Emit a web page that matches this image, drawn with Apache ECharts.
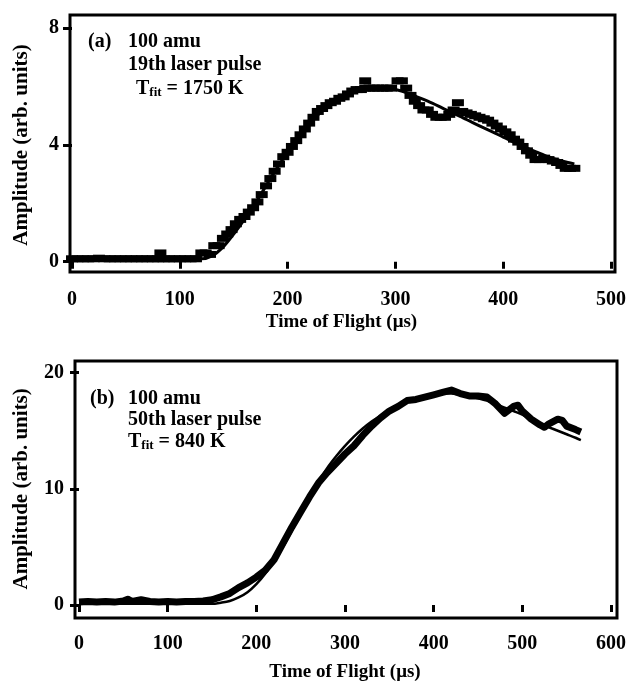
<!DOCTYPE html>
<html>
<head>
<meta charset="utf-8">
<script src="https://cdn.jsdelivr.net/npm/echarts@6/dist/echarts.min.js"></script>
<style>
html,body{margin:0;padding:0;background:#fff;}
#chart{width:629px;height:683px;}
</style>
</head>
<body>
<div id="chart"></div>
<script>
// panel (a): 19th laser pulse, time of flight (us) vs amplitude
var pulseA_data = [
  [0,0.1],[5,0.1],[10,0.1],[15,0.1],[20,0.1],[25,0.12],[30,0.1],[35,0.1],[40,0.1],[45,0.1],
  [50,0.1],[55,0.1],[60,0.1],[65,0.1],[70,0.1],[75,0.1],[80,0.1],[82,0.3],[85,0.1],[90,0.1],
  [95,0.1],[100,0.1],[105,0.1],[110,0.1],[115,0.1],[120,0.3],[124,0.3],[128,0.25],[132,0.55],[136,0.55],
  [140,0.8],[144,0.95],[148,1.1],[152,1.3],[156,1.45],[160,1.55],[164,1.7],[168,1.85],[172,2.05],[176,2.3],
  [180,2.6],[184,2.85],[188,3.1],[192,3.35],[196,3.6],[200,3.75],[204,3.95],[208,4.15],[212,4.35],[216,4.55],
  [220,4.75],[224,4.95],[228,5.15],[232,5.25],[236,5.35],[240,5.45],[244,5.5],[248,5.6],[252,5.65],[256,5.75],
  [260,5.85],[264,5.9],[268,5.9],[272,5.95],[272,6.2],[276,5.95],[280,5.95],[284,5.95],[288,5.95],[292,5.95],
  [296,5.95],[302,6.2],[306,6.2],[310,5.95],[314,5.7],[318,5.5],[322,5.35],[326,5.2],[330,5.2],[334,5.05],
  [338,4.95],[342,4.95],[346,4.95],[350,5.05],[354,5.2],[358,5.45],[362,5.15],[366,5.1],[370,5.05],[374,5.0],
  [378,4.95],[382,4.9],[386,4.85],[390,4.75],[394,4.65],[398,4.55],[402,4.45],[406,4.35],[410,4.2],[414,4.1],
  [418,3.95],[422,3.8],[426,3.65],[430,3.5],[434,3.5],[438,3.55],[442,3.5],[446,3.45],[450,3.4],[454,3.3],
  [458,3.2],[462,3.2],[466,3.2]
];
var pulseA_fit = [
  [0,0.1],[120,0.1],[130,0.2],[140,0.5],[150,0.95],[160,1.45],[170,2.0],[180,2.6],[190,3.2],[200,3.75],
  [210,4.25],[220,4.7],[230,5.1],[240,5.4],[250,5.65],[260,5.82],[270,5.93],[280,5.98],[290,5.97],[300,5.9],
  [310,5.8],[320,5.65],[330,5.5],[340,5.33],[350,5.15],[360,4.98],[370,4.8],[380,4.62],[390,4.45],[400,4.27],
  [410,4.1],[420,3.93],[430,3.77],[440,3.62],[450,3.5],[460,3.4],[466,3.35]
];

// panel (b): 50th laser pulse
var pulseB_data = [
  [0,0.25],[10,0.3],[20,0.25],[30,0.3],[40,0.25],[50,0.35],[55,0.5],[60,0.3],[70,0.45],[80,0.3],
  [90,0.25],[100,0.3],[110,0.25],[120,0.3],[130,0.3],[140,0.35],[150,0.45],[160,0.7],[170,1.0],[180,1.5],
  [190,1.9],[200,2.4],[210,3.0],[220,3.9],[230,5.3],[240,6.7],[250,8.0],[260,9.3],[270,10.5],[280,11.4],
  [290,12.2],[300,13.0],[310,13.7],[320,14.6],[330,15.4],[340,16.1],[350,16.7],[360,17.1],[370,17.6],[380,17.7],
  [390,17.9],[400,18.1],[410,18.3],[420,18.5],[430,18.2],[440,18.0],[450,18.0],[460,17.9],[470,17.3],[480,16.5],
  [490,17.1],[495,17.2],[500,16.7],[510,16.0],[520,15.5],[525,15.3],[530,15.6],[540,16.0],[545,15.9],[550,15.4],
  [560,15.1],[566,14.9]
];
var pulseB_fit = [
  [0,0.1],[100,0.1],[150,0.1],[160,0.2],[170,0.35],[180,0.65],[190,1.1],[200,1.8],[210,2.7],[220,3.8],
  [230,5.0],[240,6.4],[250,7.9],[260,9.3],[270,10.6],[280,11.8],[290,12.8],[300,13.7],[310,14.5],[320,15.2],
  [330,15.8],[340,16.3],[350,16.8],[360,17.2],[370,17.5],[380,17.8],[390,18.0],[400,18.1],[410,18.2],[420,18.2],
  [430,18.1],[440,18.0],[450,17.8],[460,17.6],[470,17.3],[480,17.0],[490,16.7],[500,16.4],[510,16.0],[520,15.6],
  [530,15.3],[540,15.0],[550,14.7],[560,14.4],[566,14.2]
];

// axis ranges / ticks
var xMaxA = 500, yMaxA = 8, yStepA = 4;
var xMaxB = 600, yMaxB = 20, yStepB = 10;
var xStep = 100;

var labelsA = ['(a)', '100 amu', '19th laser pulse', '1750 K'];
var labelsB = ['(b)', '100 amu', '50th laser pulse', '840 K'];

var FONT = '"Liberation Serif", "Times New Roman", serif';

function xAx(idx, max, offset, labelMargin, nameGap) {
  return {
    gridIndex: idx, type: 'value', min: 0, max: max, interval: xStep,
    offset: offset,
    splitLine: {show: false},
    axisLine: {show: false},
    axisTick: {show: true, length: 7, lineStyle: {color: '#000', width: 3}},
    axisLabel: {color: '#000', fontFamily: FONT, fontWeight: 'bold', fontSize: 20, margin: labelMargin},
    name: 'Time of Flight (\u03bcs)', nameLocation: 'middle', nameGap: nameGap,
    nameTextStyle: {color: '#000', fontFamily: FONT, fontWeight: 'bold', fontSize: 19}
  };
}
function yAx(idx, max, step, offset, nameGap) {
  return {
    gridIndex: idx, type: 'value', min: 0, max: max, interval: step,
    offset: offset,
    splitLine: {show: false},
    axisLine: {show: false},
    axisTick: {show: true, length: 9, lineStyle: {color: '#000', width: 3}},
    axisLabel: {color: '#000', fontFamily: FONT, fontWeight: 'bold', fontSize: 20, margin: 11},
    name: 'Amplitude (arb. units)', nameLocation: 'middle', nameGap: nameGap,
    nameTextStyle: {color: '#000', fontFamily: FONT, fontWeight: 'bold', fontSize: 21}
  };
}

function note(x, y, txt) {
  return {type: 'text', x: x, y: y, style: {
    text: txt, fill: '#000', font: 'bold 20px ' + FONT, verticalAlign: 'top'
  }};
}
function tfit(x, y, val) {
  return {type: 'text', x: x, y: y, style: {
    text: '{t|T}{s|fit}{t| = ' + val + '}', verticalAlign: 'top',
    rich: {
      t: {fill: '#000', fontFamily: FONT, fontWeight: 'bold', fontSize: 20, lineHeight: 20},
      s: {fill: '#000', fontFamily: FONT, fontWeight: 'bold', fontSize: 13, lineHeight: 8, verticalAlign: 'bottom'}
    }
  }};
}
function frame(x1, y1, x2, y2) {
  return {type: 'rect', shape: {x: x1, y: y1, width: x2 - x1, height: y2 - y1},
    style: {fill: 'none', stroke: '#000', lineWidth: 3}, z: 10};
}

var chart = echarts.init(document.getElementById('chart'));
var option = {
  backgroundColor: '#fff',
  animation: false,
  grid: [
    {left: 72, top: 28.3, width: 540, height: 233.4},
    {left: 79, top: 372.7, width: 535.3, height: 236.6}
  ],
  xAxis: [xAx(0, xMaxA, 10, 18, 41), xAx(1, xMaxB, 9, 20, 49)],
  yAxis: [yAx(0, yMaxA, yStepA, 2, 38), yAx(1, yMaxB, yStepB, 4, 43)],
  series: [
    {type: 'scatter', xAxisIndex: 0, yAxisIndex: 0, data: pulseA_data, clip: false,
     symbol: 'rect', symbolSize: [12, 7], itemStyle: {color: '#000', opacity: 1}},
    {type: 'line', xAxisIndex: 0, yAxisIndex: 0, data: pulseA_fit, showSymbol: false, smooth: 0.3,
     clip: false, lineStyle: {color: '#000', width: 3}},
    {type: 'line', xAxisIndex: 1, yAxisIndex: 1, data: pulseB_data, showSymbol: false,
     clip: false, lineStyle: {color: '#000', width: 7, join: 'round'}},
    {type: 'line', xAxisIndex: 1, yAxisIndex: 1, data: pulseB_fit, showSymbol: false, smooth: 0.3,
     clip: false, lineStyle: {color: '#000', width: 2.5}}
  ],
  graphic: [
    frame(70, 15, 615, 272),
    frame(75, 361, 617, 618),
    note(88, 32, labelsA[0]),
    note(128, 32, labelsA[1]),
    note(128, 55, labelsA[2]),
    tfit(136, 79, labelsA[3]),
    note(90, 389, labelsB[0]),
    note(128, 389, labelsB[1]),
    note(128, 410, labelsB[2]),
    tfit(128, 432, labelsB[3])
  ]
};
chart.setOption(option);
</script>
</body>
</html>
